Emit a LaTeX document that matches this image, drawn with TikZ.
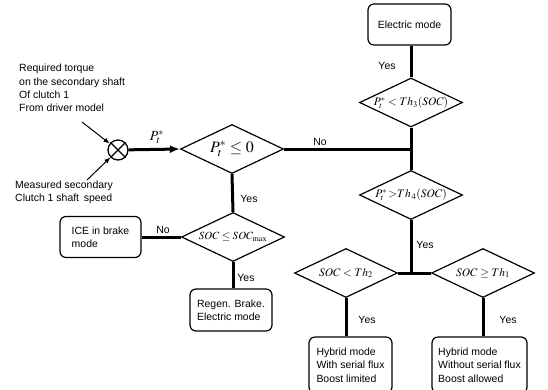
\documentclass[tikz,border=0pt]{standalone}
\usepackage{mathptmx}
\usepackage[no-math]{fontspec}
\setmainfont{Liberation Sans}
\usetikzlibrary{shapes.geometric,arrows.meta}
\tikzset{
  dia/.style={diamond, draw, line width=1.2bp, inner sep=0pt, aspect=2,
    minimum width=103bp, minimum height=49bp},
  mlab/.style={inner sep=0pt, font=\fontsize{11.5}{13}\selectfont},
  box/.style={draw, rounded corners=6bp, line width=1.2bp, align=left, inner sep=0pt,
    font=\fontsize{10.5}{13.5}\selectfont},
  lab/.style={inner sep=0pt, font=\fontsize{10.5}{12}\selectfont},
  conn/.style={line width=3bp},
  thinarrow/.style={line width=1bp, -{Latex[length=6bp,width=5bp]}},
}
\begin{document}
\begin{tikzpicture}[x=1bp,y=-1bp]
\useasboundingbox (0,0) rectangle (548,389);
\fill[white] (0,0) rectangle (548,389);

% input texts
\node[lab, align=left, anchor=west, font=\fontsize{10.5}{13.4}\selectfont] (req) at (19,88)
  {Required torque\\on the secondary shaft\\Of clutch 1\\From driver model};
\node[lab, align=left, anchor=west, font=\fontsize{10.5}{13}\selectfont] (meas) at (15,192.5)
  {Measured secondary\\Clutch 1 shaft\ \,speed};

% summing junction
\node[circle, draw, line width=1.3bp, minimum size=20bp, inner sep=0pt] (circ) at (118,150) {};
\draw[line width=1.3bp] (circ.north west) -- (circ.south east) (circ.north east) -- (circ.south west);
\coordinate (in1) at (82,122);
\coordinate (in2) at (87,180);
\draw[thinarrow] (in1) -- (circ);
\draw[thinarrow] (in2) -- (circ);

% diamonds
\node[dia] (d0) at (232,149) {};
\node[mlab, font=\fontsize{16}{18}\selectfont] (t0) at (d0) {$P_t^*\le 0$};
\node[dia] (d1) at (233,237) {};
\node[mlab, font=\fontsize{11}{13}\selectfont] (t1) at (d1) {$SOC\le SOC_{\max}$};
\node[dia] (d3) at (411,102.5) {};
\node[mlab] (t3) at (d3) {$P_t^*<Th_3(SOC)$};
\node[dia] (d4) at (411,195) {};
\node[mlab] (t4) at (d4) {$P_t^*\,{>}Th_{\,4}(SOC)$};
\node[dia] (d2) at (346,273) {};
\node[mlab] (t2) at (d2) {$SOC<Th_2$};
\node[dia] (d5) at (483,273) {};
\node[mlab] (t5) at (d5) {$SOC\ge Th_1$};

% boxes
\node[box, minimum width=83bp, minimum height=41bp] (em) at (409.5,24.5) {Electric mode};
\node[box, minimum width=81bp, minimum height=41bp] (ice) at (100.5,237) {ICE in brake\\mode};
\node[box, minimum width=82bp, minimum height=42bp] (regen) at (231,310) {Regen. Brake.\\Electric mode};
\node[box, minimum width=83bp, minimum height=56bp] (hyb1) at (350.5,365) {Hybrid mode\\With serial flux\\Boost limited};
\node[box, minimum width=95bp, minimum height=56bp] (hyb2) at (479.5,365) {Hybrid mode\\Without serial flux\\Boost allowed};

% connectors
\draw[conn, -{Latex[length=10bp,width=8bp]}] (circ) -- (d0.west);
\node[mlab, font=\fontsize{14}{16}\selectfont] (pl) at (157,137) {$P_t^*$};

\coordinate (j1) at (d3 |- d0);
\draw[conn] (d0.east) -- (j1);
\draw[conn] (d3.north) -- (d3.north |- em.south);
\draw[conn] (d3.south) -- (d4.north);
\draw[conn] (d0.south) -- (d1.north);
\draw[conn] (d1.west) -- (ice.east);
\draw[conn] (d1.south) -- (d1.south |- regen.north);
\coordinate (j2) at (d4 |- d2);
\draw[conn] (d4.south) -- (j2);
\draw[conn] (d2.east) -- (d5.west);
\draw[conn] (d2.south) -- (d2.south |- hyb1.north);
\draw[conn] (d5.south) -- (d5.south |- hyb2.north);

% labels
\node[lab] (y1) at (387,66) {Yes};
\node[lab] (n1) at (320,142) {No};
\node[lab] (y2) at (249,199) {Yes};
\node[lab] (n2) at (163,230) {No};
\node[lab] (y3) at (246,278) {Yes};
\node[lab] (y4) at (425,245) {Yes};
\node[lab] (y5) at (367,320) {Yes};
\node[lab] (y6) at (508,320) {Yes};
\end{tikzpicture}
\end{document}
